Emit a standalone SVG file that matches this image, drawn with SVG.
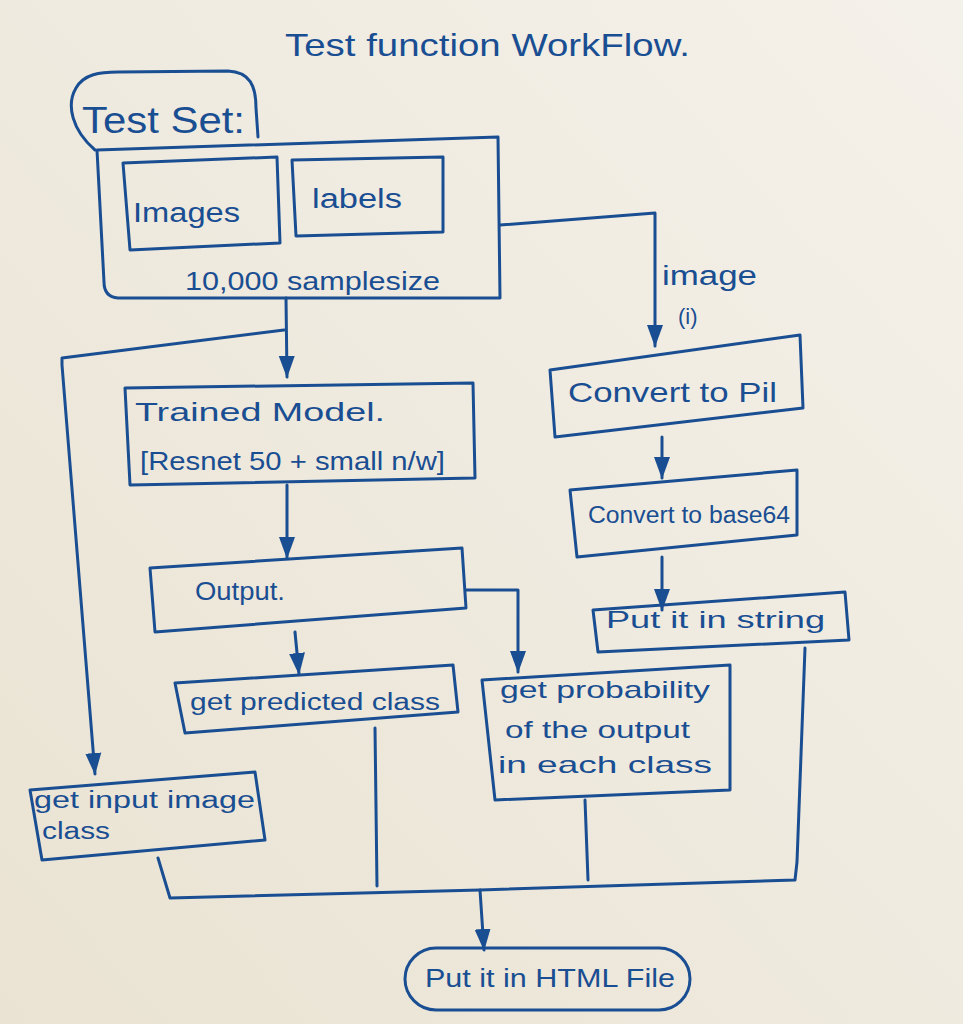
<svg xmlns="http://www.w3.org/2000/svg" width="963" height="1024" viewBox="0 0 963 1024">
<style>
.ink{fill:none;stroke:#1a4e92;stroke-width:3;stroke-linejoin:round;stroke-linecap:round}
.t{fill:#1a4e92;font-family:"Liberation Sans","DejaVu Sans",sans-serif}
</style>
<defs>
<linearGradient id="bg" x1="0" y1="1" x2="1" y2="0">
<stop offset="0" stop-color="#eae3d3"/>
<stop offset="1" stop-color="#f4f1ea"/>
</linearGradient>
<marker id="ah" viewBox="0 -9 22 18" refX="21" refY="0" markerWidth="22" markerHeight="18" markerUnits="userSpaceOnUse" orient="auto">
<path d="M0,-8 L22,0 L0,8 Z" fill="#1a4e92"/>
</marker>
</defs>
<rect width="963" height="1024" fill="url(#bg)"/>

<g id="title"><text class="t" x="285" y="56" font-size="32" textLength="405" lengthAdjust="spacingAndGlyphs">Test function WorkFlow.</text></g>

<g id="test-set">
<path class="ink" d="M95,150 C72,130 66,105 76,88 C84,74 100,72 118,72 L228,71 C250,72 256,86 256,108 L258,137"/>
<text class="t" x="82" y="133" font-size="36" textLength="163" lengthAdjust="spacingAndGlyphs">Test Set:</text>
<path class="ink" d="M97,150 L498,137 L500,298 L118,298 Q104,297 104,282 Z"/>
<text class="t" x="185" y="290" font-size="25" textLength="255" lengthAdjust="spacingAndGlyphs">10,000 samplesize</text>
</g>
<g id="images">
<path class="ink" d="M123,163 L277,157 L280,243 L130,250 Z"/>
<text class="t" x="133" y="222" font-size="27" textLength="107" lengthAdjust="spacingAndGlyphs">Images</text>
</g>
<g id="labels">
<path class="ink" d="M292,160 L443,157 L443,232 L296,236 Z"/>
<text class="t" x="312" y="208" font-size="27" textLength="90" lengthAdjust="spacingAndGlyphs">labels</text>
</g>

<g id="trained-model">
<path class="ink" d="M125,388 L473,383 L475,478 L130,485 Z"/>
<text class="t" x="135" y="421" font-size="25" textLength="250" lengthAdjust="spacingAndGlyphs">Trained Model.</text>
<text class="t" x="140" y="470" font-size="25" textLength="305" lengthAdjust="spacingAndGlyphs">[Resnet 50 + small n/w]</text>
</g>
<g id="output">
<path class="ink" d="M150,568 L462,548 L466,608 L155,632 Z"/>
<text class="t" x="195" y="600" font-size="25" textLength="90" lengthAdjust="spacingAndGlyphs">Output.</text>
</g>
<g id="predicted">
<path class="ink" d="M175,683 L453,665 L458,712 L185,733 Z"/>
<text class="t" x="190" y="710" font-size="23" textLength="250" lengthAdjust="spacingAndGlyphs">get predicted class</text>
</g>
<g id="probability">
<path class="ink" d="M482,680 L730,665 L730,790 L495,800 Z"/>
<text class="t" x="500" y="698" font-size="24" textLength="210" lengthAdjust="spacingAndGlyphs">get probability</text>
<text class="t" x="505" y="738" font-size="24" textLength="185" lengthAdjust="spacingAndGlyphs">of the output</text>
<text class="t" x="498" y="773" font-size="24" textLength="214" lengthAdjust="spacingAndGlyphs">in each class</text>
</g>
<g id="input-class">
<path class="ink" d="M30,790 L255,772 L265,840 L42,860 Z"/>
<text class="t" x="34" y="808" font-size="23" textLength="221" lengthAdjust="spacingAndGlyphs">get input image</text>
<text class="t" x="42" y="839" font-size="23" textLength="68" lengthAdjust="spacingAndGlyphs">class</text>
</g>
<g id="pil">
<path class="ink" d="M550,370 L800,335 L803,408 L555,437 Z"/>
<text class="t" x="568" y="402" font-size="28" textLength="209" lengthAdjust="spacingAndGlyphs">Convert to Pil</text>
</g>
<g id="base64">
<path class="ink" d="M570,490 L797,470 L797,535 L577,557 Z"/>
<text class="t" x="588" y="523" font-size="23" textLength="202" lengthAdjust="spacingAndGlyphs">Convert to base64</text>
</g>
<g id="string">
<path class="ink" d="M593,610 L845,592 L849,640 L598,652 Z"/>
<text class="t" x="606" y="628" font-size="24" textLength="219" lengthAdjust="spacingAndGlyphs">Put it in string</text>
</g>
<g id="html">
<rect class="ink" x="405" y="948" width="285" height="62" rx="31"/>
<text class="t" x="425" y="987" font-size="25" textLength="250" lengthAdjust="spacingAndGlyphs">Put it in HTML File</text>
</g>

<g id="connectors">
<path class="ink" d="M500,225 L655,213 L655,346" marker-end="url(#ah)"/>
<text class="t" x="662" y="285" font-size="27" textLength="95" lengthAdjust="spacingAndGlyphs">image</text>
<text class="t" x="678" y="324" font-size="22">(i)</text>
<path class="ink" d="M662,437 L662,478" marker-end="url(#ah)"/>
<path class="ink" d="M662,557 L662,610" marker-end="url(#ah)"/>
<path class="ink" d="M286,298 L287,377" marker-end="url(#ah)"/>
<path class="ink" d="M284,330 L62,358 L62,365 L95,774" marker-end="url(#ah)"/>
<path class="ink" d="M287,485 L287,558" marker-end="url(#ah)"/>
<path class="ink" d="M295,632 L299,674" marker-end="url(#ah)"/>
<path class="ink" d="M466,590 L518,590 L518,672" marker-end="url(#ah)"/>
<path class="ink" d="M158,858 L170,898 L480,890 L795,880 L797,862 L805,648"/>
<path class="ink" d="M375,728 L377,886"/>
<path class="ink" d="M585,800 L588,880"/>
<path class="ink" d="M480,890 L484,950" marker-end="url(#ah)"/>
</g>
</svg>
